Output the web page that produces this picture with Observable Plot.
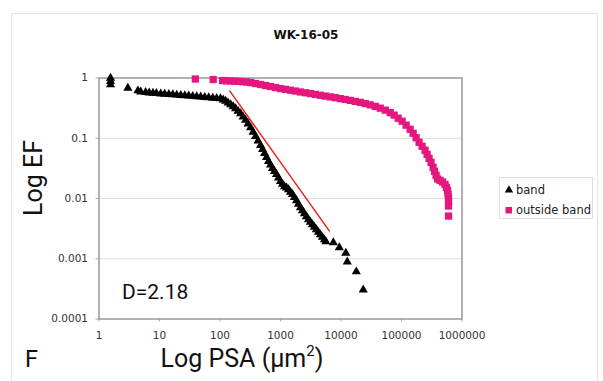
<!DOCTYPE html>
<html>
<head>
<meta charset="utf-8">
<script src="https://cdn.jsdelivr.net/npm/d3@7"></script>
<script src="https://cdn.jsdelivr.net/npm/@observablehq/plot@0.6"></script>
<style>
  html, body { margin: 0; padding: 0; background: #fff; }
  #chart { width: 603px; height: 381px; overflow: hidden; }
</style>
</head>
<body>
<div id="chart"></div>
<script>
// ---- data ----
const title = "WK-16-05";
const xTicks = [1, 10, 100, 1000, 10000, 100000, 1000000];
const yTicks = [1, 0.1, 0.01, 0.001, 0.0001];
const gridLevels = [0.1, 0.01, 0.001];
const seriesNames = ["band", "outside band"];
const annotation = "D=2.18";

const bandArea = [1.55,1.55,1.55,3.0,4.4,4.9,5.9,6.75,7.8,8.9,10.5,12.2,14.3,16.6,19.3,22.5,26.2,30.4,35.4,41.2,48,56,65,76,88,102,113,124,136,150,165,181,199,219,241,265,291,320,352,387,426,468,505,545,588,634,684,738,796,859,927,1000,1079,1164,1256,1355,1461,1577,1701,1835,1980,2136,2304,2486,2683,2893,3122,3368,3634,3920,4230,4563,4922,5312,5623,7470,9380,12000,12700,17900,23300];
const bandEF = [1.0,0.88,0.78,0.68,0.615,0.59,0.578,0.569,0.562,0.556,0.548,0.541,0.535,0.529,0.523,0.517,0.511,0.505,0.499,0.493,0.486,0.479,0.472,0.464,0.461,0.455,0.435,0.414,0.388,0.362,0.335,0.31,0.282,0.256,0.226,0.2,0.173,0.15,0.127,0.108,0.0908,0.0764,0.0656,0.0562,0.0482,0.0414,0.0362,0.0316,0.0282,0.0251,0.022,0.0192,0.0174,0.0158,0.015,0.0141,0.0128,0.0117,0.0104,0.00926,0.0081,0.00708,0.00631,0.00562,0.00501,0.00447,0.00406,0.00369,0.00335,0.00304,0.00276,0.00251,0.00228,0.00207,0.00192,0.00185,0.00153,0.00124,0.00089,0.00061,0.000304];

const outsideArea = [39.1,77.2,110.6,128.8,149.9,174.5,203,236.4,275.1,320.1,387,468.1,565.8,684.2,827,1000,1209,1461,1767,2136,2582,3122,3775,4563,5515,6671,8064,9747,11780,14250,17220,20820,25180,30440,36800,44480,53780,65020,75660,88070,102500,119300,138900,155700,174400,195400,219000,245400,264900,285700,308300,332500,352000,372600,394400,433600,476900,524300,555100,576500,587500,598800,598800,598800,598800];
const outsideEF = [0.962,0.944,0.908,0.898,0.891,0.884,0.878,0.868,0.858,0.841,0.81,0.779,0.75,0.722,0.694,0.668,0.648,0.626,0.607,0.586,0.569,0.552,0.535,0.517,0.501,0.486,0.471,0.455,0.44,0.425,0.409,0.394,0.376,0.358,0.338,0.316,0.293,0.266,0.242,0.215,0.192,0.165,0.141,0.121,0.102,0.0858,0.0736,0.0631,0.0541,0.0464,0.0398,0.0329,0.0282,0.0242,0.0211,0.02,0.0188,0.0171,0.0153,0.0136,0.0119,0.0104,0.00891,0.0075,0.00511];

const fitArea = [145, 6400];
const fitEF = [0.61, 0.0029];

// ---- tables built from the arrays ----
const band = bandArea.map((a, i) => ({area: a, ef: bandEF[i]}));
const outside = outsideArea.map((a, i) => ({area: a, ef: outsideEF[i]}));
const fit = fitArea.map((a, i) => ({area: a, ef: fitEF[i]}));

const magenta = "#e5177e";
const fmt = d => String(d);

const svg = Plot.plot({
  width: 603,
  height: 381,
  marginLeft: 98.5,
  marginRight: 141.5,
  marginTop: 77.5,
  marginBottom: 62.5,
  style: {fontFamily: "DejaVu Sans, sans-serif", fontSize: "10.5px", color: "#333", background: "white", overflow: "visible"},
  x: {type: "log", domain: [1, 1000000]},
  y: {type: "log", domain: [0.0001, 1]},
  marks: [
    Plot.ruleY(gridLevels, {stroke: "#dddddd", strokeWidth: 1}),
    Plot.axisX({ticks: xTicks, tickFormat: fmt, tickSize: 3, tickPadding: 10, stroke: "#aaa", label: null}),
    Plot.axisY({ticks: yTicks, tickFormat: fmt, tickSize: 3, tickPadding: 8, stroke: "#aaa", label: null}),
    Plot.frame({stroke: "#999", strokeWidth: 1.5}),
    Plot.line(fit, {x: "area", y: "ef", stroke: "#e0281e", strokeWidth: 1.5}),
    Plot.dot(outside, {x: "area", y: "ef", symbol: "square", r: 4.1, fill: magenta}),
    Plot.dot(band, {x: "area", y: "ef", symbol: "triangle", r: 3.4, fill: "black"}),
    Plot.text([annotation], {frameAnchor: "bottom-left", lineAnchor: "bottom", textAnchor: "start", dx: 23, dy: -20,
      fontFamily: "Roboto", fontSize: 21, fill: "#111"})
  ]
});

const s = d3.select(svg);
// outer faint border of the chart area
s.insert("rect", ":first-child")
  .attr("x", 11.5).attr("y", 13.5).attr("width", 586).attr("height", 400)
  .attr("fill", "none").attr("stroke", "#e6e6e6").attr("stroke-width", 1.2);

s.append("text").text(title)
  .attr("x", 306).attr("y", 39).attr("text-anchor", "middle")
  .attr("font-family", "DejaVu Sans").attr("font-weight", "bold").attr("font-size", 12).attr("fill", "#111");

s.append("text").text("Log EF")
  .attr("transform", "translate(41.5,178) rotate(-90)").attr("text-anchor", "middle")
  .attr("font-family", "Roboto").attr("font-size", 25).attr("fill", "#111");

const xl = s.append("text")
  .attr("x", 242).attr("y", 367).attr("text-anchor", "middle")
  .attr("font-family", "Roboto").attr("font-size", 25).attr("fill", "#111");
xl.append("tspan").text("Log PSA (\u00b5m");
xl.append("tspan").text("2").attr("font-size", 15).attr("dy", -11);
xl.append("tspan").text(")").attr("dy", 11);

s.append("text").text("F")
  .attr("x", 25).attr("y", 367).attr("text-anchor", "start")
  .attr("font-family", "Roboto").attr("font-size", 23.5).attr("fill", "#111");

// legend
const lg = s.append("g").attr("text-anchor", "start");
lg.append("rect").attr("x", 499.5).attr("y", 177.5).attr("width", 93).attr("height", 41)
  .attr("fill", "white").attr("stroke", "#dedede");
lg.append("path").attr("d", d3.symbol(d3.symbolTriangle, 3 * Math.sqrt(3) * 2.4 * 2.4)())
  .attr("transform", "translate(509,190)").attr("fill", "black");
lg.append("rect").attr("x", 505.5).attr("y", 207).attr("width", 6.5).attr("height", 6.5).attr("fill", magenta);
lg.append("text").text(seriesNames[0]).attr("x", 516).attr("y", 194).attr("text-anchor", "start")
  .attr("font-family", "DejaVu Sans").attr("font-size", 11.5).attr("fill", "#222");
lg.append("text").text(seriesNames[1]).attr("x", 516).attr("y", 214).attr("text-anchor", "start")
  .attr("font-family", "DejaVu Sans").attr("font-size", 11.5).attr("fill", "#222");

document.getElementById("chart").appendChild(svg);
</script>
</body>
</html>
